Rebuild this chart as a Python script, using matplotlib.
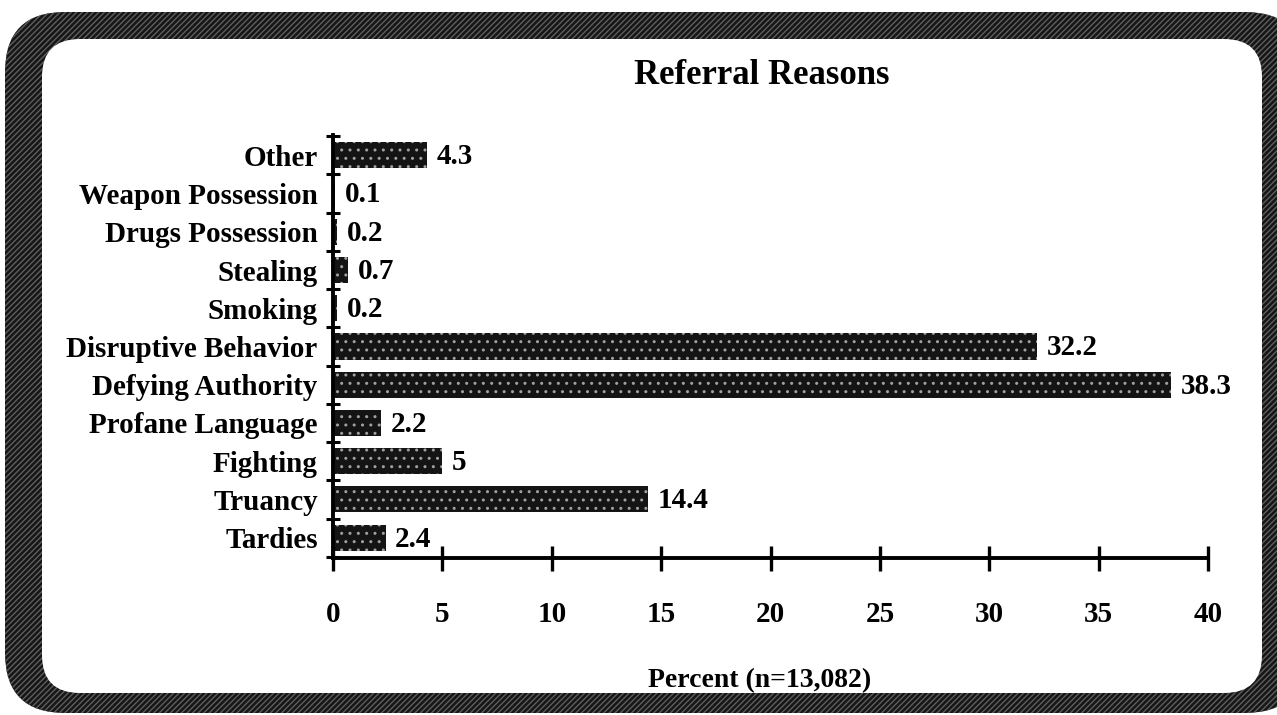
import numpy as np
import matplotlib
matplotlib.use("Agg")
import matplotlib.pyplot as plt
from matplotlib.patches import FancyBboxPatch

categories = ["Tardies", "Truancy", "Fighting", "Profane Language", "Defying Authority",
              "Disruptive Behavior", "Smoking", "Stealing", "Drugs Possession",
              "Weapon Possession", "Other"]
percent = [2.4, 14.4, 5, 2.2, 38.3, 32.2, 0.2, 0.7, 0.2, 0.1, 4.3]
value_labels = ["2.4", "14.4", "5", "2.2", "38.3", "32.2", "0.2", "0.7", "0.2", "0.1", "4.3"]
x_ticks = [0, 5, 10, 15, 20, 25, 30, 35, 40]

plt.rcParams['font.family'] = ['Liberation Serif', 'DejaVu Serif']
plt.rcParams['font.weight'] = 'bold'

W, H = 1277, 715
fig = plt.figure(figsize=(W / 100, H / 100), dpi=100)
fig.patch.set_facecolor('white')

# scanned-looking frame: dark hatched border with rounded white inside
outer = FancyBboxPatch((5 / W, 2 / H), 1300 / W, 701 / H,
                       boxstyle="round,pad=0,rounding_size=%f" % (60 / W),
                       mutation_aspect=W / H,
                       transform=fig.transFigure, facecolor='#161616',
                       edgecolor='#5e5e5e', hatch='//////', linewidth=0, zorder=0)
fig.patches.append(outer)
inner = FancyBboxPatch((42 / W, 22 / H), 1220 / W, 654 / H,
                       boxstyle="round,pad=0,rounding_size=%f" % (38 / W),
                       mutation_aspect=W / H,
                       transform=fig.transFigure, facecolor='white',
                       edgecolor='none', linewidth=0, zorder=1)
fig.patches.append(inner)

ax = fig.add_axes([333 / W, 157 / H, 875 / W, 423 / H])
ax.set_zorder(2)
ax.patch.set_alpha(0)

y = np.arange(len(categories))
bars = ax.barh(y, percent, height=0.68, color='#141414', edgecolor='#a0a0a0',
               hatch='..', linewidth=0)

for yi, v, lab in zip(y, percent, value_labels):
    ax.annotate(lab, (v, yi), xytext=(7, -1), textcoords='offset points',
                va='center', ha='left', fontsize=21, fontweight='bold')

ax.set_xlim(0, 40)
ax.set_ylim(-0.53, len(categories) - 0.47)
ax.set_xticks(x_ticks)
ax.set_xticklabels([str(t) for t in x_ticks])
ax.set_yticks(y)
ax.set_yticklabels(categories)
ax.set_yticks(np.arange(len(categories) + 1) - 0.5, minor=True)

for s in ['top', 'right']:
    ax.spines[s].set_visible(False)
ax.spines['left'].set_linewidth(2.8)
ax.spines['bottom'].set_linewidth(2.8)

ax.tick_params(axis='x', direction='inout', length=18, width=2.4, pad=22,
               labelsize=21)
ax.tick_params(axis='y', which='major', length=0, pad=11, labelsize=21)
ax.tick_params(axis='y', which='minor', direction='inout', length=10, width=2.2)

fig.text(762 / W, 1 - 75 / H, "Referral Reasons", ha='center', va='center',
         fontsize=25, fontweight='bold', zorder=3)
fig.text(760 / W, 1 - 681 / H, "Percent (n=13,082)", ha='center', va='center',
         fontsize=20, fontweight='bold', zorder=3)

fig.savefig("out.png", dpi=100)
